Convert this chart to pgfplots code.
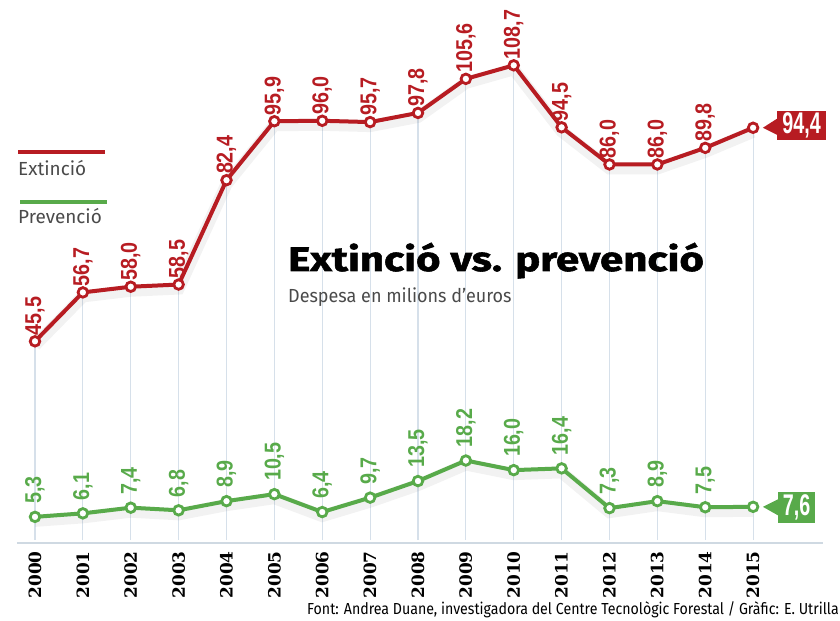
\documentclass[border=0pt]{standalone}
\usepackage{fontspec}
\setmainfont{Fira Sans}
\newfontfamily\numfont[FakeStretch=0.86]{Liberation Sans}
\newfontfamily\boxfont[FakeStretch=0.66]{Liberation Sans}
\newfontfamily\yearfont{DejaVu Serif}
\newfontfamily\titlefont[FakeBold=1.6, FakeStretch=1.24]{Fira Sans}
\newfontfamily\subfont[FakeStretch=0.95]{Fira Sans}
\newfontfamily\notefont[FakeStretch=0.89]{Fira Sans}
\usepackage{pgfplots}
\pgfplotsset{compat=1.18}
\usepackage{pgfplotstable}

\definecolor{redc}{HTML}{B71C22}
\definecolor{greenc}{HTML}{58AA4A}
\definecolor{gridc}{HTML}{D6E0EA}
\definecolor{axisc}{HTML}{CFD9E2}
\definecolor{textc}{HTML}{4A4A4A}

\pgfplotstableread{
year ext  extl  prev prevl
2000 45.5 45,5  5.3  5,3
2001 56.7 56,7  6.1  6,1
2002 58.0 58,0  7.4  7,4
2003 58.5 58,5  6.8  6,8
2004 82.4 82,4  8.9  8,9
2005 95.9 95,9  10.5 10,5
2006 96.0 96,0  6.4  6,4
2007 95.7 95,7  9.7  9,7
2008 97.8 97,8  13.5 13,5
2009 105.6 105,6 18.2 18,2
2010 108.7 108,7 16.0 16,0
2011 94.5 94,5  16.4 16,4
2012 86.0 86,0  7.3  7,3
2013 86.0 86,0  8.9  8,9
2014 89.8 89,8  7.5  7,5
2015 94.4 94,4  7.6  7,6
}\data

\begin{document}
\begin{tikzpicture}
\begin{axis}[
  scale only axis, width=806bp, height=542.8bp,
  xmin=1999.624, xmax=2016.46, ymin=-0.7, ymax=123.6,
  axis x line=bottom, axis y line=none,
  x axis line style={-, draw=axisc, line width=2bp},
  xtick={2000,...,2015},
  xticklabels={2000,2001,2002,2003,2004,2005,2006,2007,2008,2009,2010,2011,2012,2013,2014,2015},
  major tick length=0pt,
  xticklabel style={rotate=90, anchor=east, inner sep=0pt, inner xsep=8bp,
    font=\yearfont\bfseries\fontsize{17}{17}\selectfont, text=black},
  clip=false,
]
% vertical guide lines up to the Extincio values
\addplot[ycomb, draw=gridc, line width=1.2bp, mark=none] table[x=year, y=ext] {\data};
% soft shadows
\addplot[draw=black, opacity=0.05, line width=12bp, yshift=-4bp, mark=none] table[x=year, y=ext] {\data};
\addplot[draw=black, opacity=0.05, line width=12bp, yshift=-4bp, mark=none] table[x=year, y=prev] {\data};
% Extincio
\addplot[draw=redc, line width=4bp, mark=*, mark size=4.8bp,
  mark options={fill=white, draw=redc, line width=2.8bp, solid}]
  table[x=year, y=ext] {\data};
\addplot[draw=none, mark=none, point meta=explicit symbolic, nodes near coords,
  skip coords between index={15}{16},
  every node near coord/.append style={rotate=90, anchor=west, inner sep=0pt, inner xsep=6bp,
    font=\numfont\bfseries\fontsize{23}{23}\selectfont, text=redc}]
  table[x=year, y=ext, meta=extl] {\data};
% Prevencio
\addplot[draw=greenc, line width=4bp, mark=*, mark size=4.8bp,
  mark options={fill=white, draw=greenc, line width=2.8bp, solid}]
  table[x=year, y=prev] {\data};
\addplot[draw=none, mark=none, point meta=explicit symbolic, nodes near coords,
  skip coords between index={15}{16},
  every node near coord/.append style={rotate=90, anchor=west, inner sep=0pt, inner xsep=13bp,
    font=\numfont\bfseries\fontsize{23}{23}\selectfont, text=greenc}]
  table[x=year, y=prev, meta=prevl] {\data};
\coordinate (e15) at (axis cs:2015,94.4);
\coordinate (p15) at (axis cs:2015,7.6);
\coordinate (TL) at (axis cs:1999.269,123.66);
\end{axis}

% end value boxes
\node[fill=redc, text=white, minimum width=49bp, minimum height=29bp, inner sep=0pt,
  font=\boxfont\bfseries\fontsize{30}{30}\selectfont] (b1) at ([xshift=48.5bp, yshift=2bp]e15) {94,4};
\fill[redc] ([yshift=7bp]b1.west) -- ([xshift=-14bp, yshift=-2bp]b1.west) -- ([yshift=-9bp]b1.west) -- cycle;
\node[fill=greenc, text=white, minimum width=37bp, minimum height=31bp, inner sep=0pt,
  font=\boxfont\bfseries\fontsize{30}{30}\selectfont] (b2) at ([xshift=43.5bp, yshift=-0.5bp]p15) {7,6};
\fill[greenc] ([yshift=8bp]b2.west) -- ([xshift=-15bp, yshift=0.5bp]b2.west) -- ([yshift=-8bp]b2.west) -- cycle;

% legend
\draw[redc, line width=4bp] ([shift={(18bp,-152bp)}]TL) -- ++(87bp,0);
\node[anchor=base west, inner sep=0pt, text=textc, font=\fontsize{19}{19}\selectfont]
  at ([shift={(18bp,-176bp)}]TL) {Extinció};
\draw[greenc, line width=4bp] ([shift={(20bp,-202bp)}]TL) -- ++(87bp,0);
\node[anchor=base west, inner sep=0pt, text=textc, font=\fontsize{19}{19}\selectfont]
  at ([shift={(18bp,-224bp)}]TL) {Prevenció};

% titles
\node[anchor=base west, inner sep=0pt, text=black, font=\titlefont\bfseries\fontsize{34}{34}\selectfont]
  at ([shift={(288bp,-271bp)}]TL) {Extinció vs. prevenció};
\node[anchor=base west, inner sep=0pt, text=textc, font=\subfont\fontsize{19}{19}\selectfont]
  at ([shift={(288bp,-303bp)}]TL) {Despesa en milions d’euros};
\node[anchor=base east, inner sep=0pt, text=black, font=\notefont\fontsize{16}{16}\selectfont]
  at ([shift={(839bp,-614bp)}]TL) {Font: Andrea Duane, investigadora del Centre Tecnològic Forestal / Gràfic: E. Utrilla};

\pgfresetboundingbox
\path[use as bounding box] (TL) rectangle ++(840bp,-621bp);
\end{tikzpicture}
\end{document}
